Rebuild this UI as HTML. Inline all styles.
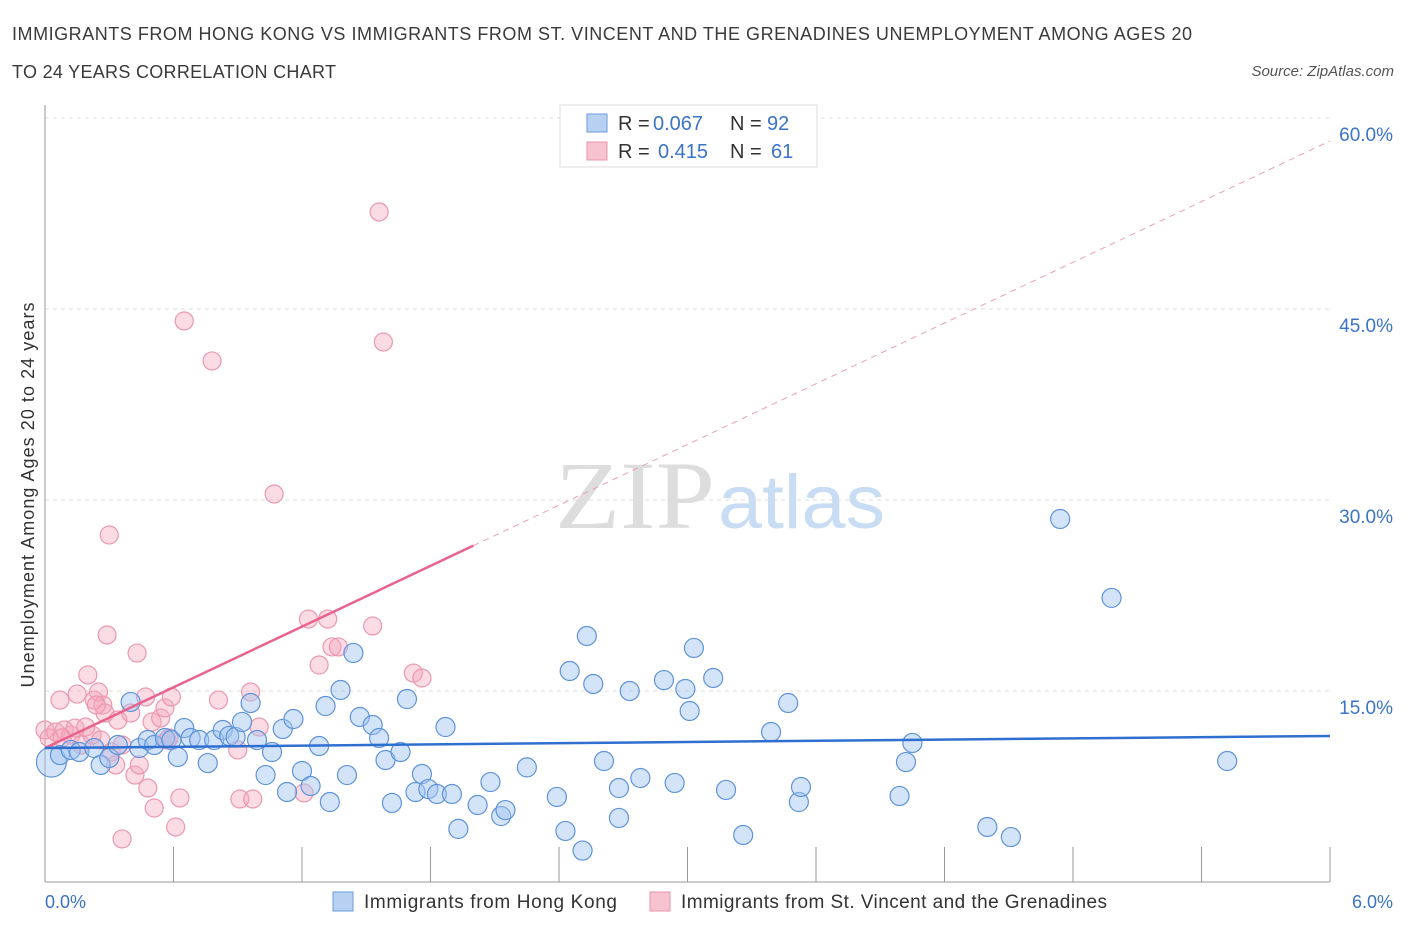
<!DOCTYPE html>
<html><head><meta charset="utf-8"><style>
body{margin:0;background:#fff;font-family:"Liberation Sans",sans-serif}
</style></head><body>
<svg id="c" width="1406" height="930" xmlns="http://www.w3.org/2000/svg">
<text x="12" y="40" font-size="18" fill="#3a3a3a" textLength="1180" lengthAdjust="spacing">IMMIGRANTS FROM HONG KONG VS IMMIGRANTS FROM ST. VINCENT AND THE GRENADINES UNEMPLOYMENT AMONG AGES 20</text>
<text x="12" y="78" font-size="18" fill="#3a3a3a" textLength="324" lengthAdjust="spacing">TO 24 YEARS CORRELATION CHART</text>
<text x="1394" y="76" font-size="15" fill="#555" font-style="italic" text-anchor="end">Source: ZipAtlas.com</text>
<text x="555" y="528" font-size="96" fill="#ddd" font-family="Liberation Serif" textLength="160" lengthAdjust="spacingAndGlyphs">ZIP</text>
<text x="718" y="528" font-size="76" fill="#c8dcf3" textLength="167" lengthAdjust="spacingAndGlyphs">atlas</text>
<g id="grid"></g><g id="marks"></g>
<text transform="translate(34,495) rotate(-90)" font-size="18" fill="#333" text-anchor="middle" textLength="385" lengthAdjust="spacing">Unemployment Among Ages 20 to 24 years</text>
<text x="45" y="908" font-size="18" fill="#3b73c8">0.0%</text>
<text x="1393" y="908" font-size="18" fill="#3b73c8" text-anchor="end">6.0%</text>
<g>
<rect x="560" y="105" width="257" height="62" fill="#fff" stroke="#ddd"/>
<rect x="587" y="114" width="20" height="18" fill="#b8d1f3" stroke="#6c9ad8"/>
<rect x="587" y="142" width="20" height="18" fill="#f7c3d1" stroke="#e895ab"/>
<text y="130" font-size="20" fill="#333"><tspan x="618">R =</tspan><tspan x="653" fill="#3b73c8">0.067</tspan><tspan x="730">N =</tspan><tspan x="767" fill="#3b73c8">92</tspan></text>
<text y="158" font-size="20" fill="#333"><tspan x="618">R =</tspan><tspan x="658" fill="#3b73c8">0.415</tspan><tspan x="730">N =</tspan><tspan x="771" fill="#3b73c8">61</tspan></text>
</g>
<g>
<rect x="333" y="892" width="20" height="19" fill="#b8d1f3" stroke="#6c9ad8"/>
<text x="364" y="908" font-size="19" fill="#333" textLength="253" lengthAdjust="spacing">Immigrants from Hong Kong</text>
<rect x="650" y="892" width="20" height="19" fill="#f7c3d1" stroke="#e895ab"/>
<text x="681" y="908" font-size="19" fill="#333" textLength="426" lengthAdjust="spacing">Immigrants from St. Vincent and the Grenadines</text>
</g>
</svg>
<script>
const yTicks=[15,30,45,60];
const yTickLabels=["15.0%","30.0%","45.0%","60.0%"];
const xTicks=[0,0.6,1.2,1.8,2.4,3.0,3.6,4.2,4.8,5.4,6.0];
const blueX=[0.03,0.07,0.12,0.16,0.23,0.26,0.30,0.34,0.40,0.44,0.48,0.51,0.56,0.59,0.62,0.65,0.68,0.72,0.76,0.79,0.83,0.86,0.89,0.92,0.96,0.99,1.03,1.06,1.11,1.13,1.16,1.20,1.24,1.28,1.31,1.33,1.38,1.41,1.44,1.47,1.53,1.56,1.59,1.62,1.66,1.69,1.73,1.76,1.79,1.83,1.87,1.90,1.93,2.02,2.08,2.13,2.15,2.25,2.39,2.43,2.45,2.51,2.53,2.56,2.61,2.68,2.68,2.73,2.78,2.89,2.94,2.99,3.01,3.03,3.12,3.18,3.26,3.39,3.47,3.52,3.53,3.99,4.02,4.05,4.40,4.51,4.74,4.98,5.52];
const blueY=[9.42,9.97,10.37,10.21,10.52,9.19,9.74,10.76,14.14,10.52,11.15,10.76,11.31,11.15,9.82,12.09,11.31,11.15,9.34,11.15,11.94,11.47,11.39,12.57,14.06,11.15,8.40,10.21,12.02,7.07,12.80,8.72,7.54,10.68,13.82,6.28,15.08,8.40,17.99,12.96,12.33,11.31,9.58,6.21,10.21,14.37,7.07,8.48,7.30,6.91,12.17,6.91,4.17,6.05,7.85,5.18,5.65,9.00,6.68,4.01,16.57,2.47,19.32,15.55,9.50,7.38,5.03,15.00,8.17,15.86,7.78,15.16,13.43,18.38,16.02,7.23,3.69,11.78,14.06,6.28,7.46,6.76,9.42,10.92,4.32,3.53,28.51,22.31,9.50];
const pinkX=[0.00,0.02,0.05,0.07,0.09,0.12,0.14,0.15,0.17,0.20,0.22,0.23,0.25,0.26,0.27,0.28,0.29,0.30,0.31,0.33,0.34,0.36,0.40,0.42,0.43,0.44,0.48,0.50,0.51,0.54,0.56,0.57,0.59,0.61,0.63,0.65,0.78,0.81,0.90,0.91,0.96,0.97,1.00,1.07,1.21,1.23,1.28,1.32,1.34,1.37,1.53,1.56,1.58,1.72,1.76,0.36,0.58,0.24,0.08,0.19,0.47];
const pinkY=[11.94,11.31,11.78,14.29,11.94,11.54,12.09,14.76,10.76,16.26,11.54,14.29,14.92,11.15,13.90,13.27,19.40,27.25,10.21,9.19,12.72,10.76,13.27,8.40,17.98,9.19,7.38,12.57,5.81,12.88,13.67,11.15,14.53,4.32,6.60,44.06,40.92,14.29,10.37,6.52,14.92,6.52,12.17,30.47,6.99,20.65,17.04,20.65,18.46,18.46,20.11,52.62,42.41,16.41,16.02,3.38,11.31,13.90,11.31,12.17,14.53];
const blueTrend=[10.52,11.47];
const pinkTrend=[10.52,58.2];
const pinkSolidEnd=2.0;
const NS="http://www.w3.org/2000/svg";
const sx=v=>45+v/6*1285, sy=v=>882-v/60*764;
function mk(t,a,p){const e=document.createElementNS(NS,t);for(const k in a)e.setAttribute(k,a[k]);p.appendChild(e);return e;}
const g=document.getElementById('grid'), m=document.getElementById('marks');
yTicks.forEach((t,i)=>{
 const l=mk('line',{x1:45,x2:1330,y1:sy(t),y2:sy(t),stroke:'#ddd','stroke-dasharray':'4,4'},g);
 
 
 const tx=mk('text',{x:1393,y:sy(t)+23,'font-size':19,fill:'#3b73c8','text-anchor':'end'},g);
 tx.textContent=yTickLabels[i];
 
 
});
const ax=mk('line',{x1:45,x2:45,y1:105,y2:882,stroke:'#999'},g);


const bx=mk('line',{x1:45,x2:1330,y1:882,y2:882,stroke:'#999'},g);


xTicks.forEach(t=>{
 const l=mk('line',{x1:sx(t),x2:sx(t),y1:847,y2:882,stroke:'#999'},g);
 
 
});
pinkX.forEach((x,i)=>{
 const c=mk('circle',{cx:sx(x),cy:sy(pinkY[i]),r:9,fill:'rgba(245,165,188,0.4)',stroke:'#eb98ae','stroke-width':1.2},m);
 
 
});
blueX.forEach((x,i)=>{
 const c=mk('circle',{cx:sx(x),cy:sy(blueY[i]),r:i==0?15:9.5,fill:'rgba(160,196,240,0.45)',stroke:'#5f93da','stroke-width':1.2},m);
 
 
});
const pAt=x=>pinkTrend[0]+(pinkTrend[1]-pinkTrend[0])*x/6;
const pd=mk('line',{x1:sx(pinkSolidEnd),y1:sy(pAt(pinkSolidEnd)),x2:sx(6),y2:sy(pinkTrend[1]),stroke:'#eaa0b5','stroke-dasharray':'6,5','stroke-width':1},m);


const ps=mk('line',{x1:sx(0),y1:sy(pinkTrend[0]),x2:sx(pinkSolidEnd),y2:sy(pAt(pinkSolidEnd)),stroke:'#e8648c','stroke-width':2.5},m);


const bl=mk('line',{x1:sx(0),y1:sy(blueTrend[0]),x2:sx(6),y2:sy(blueTrend[1]),stroke:'#2f6fd0','stroke-width':2.5},m);


</script>
</body></html>
